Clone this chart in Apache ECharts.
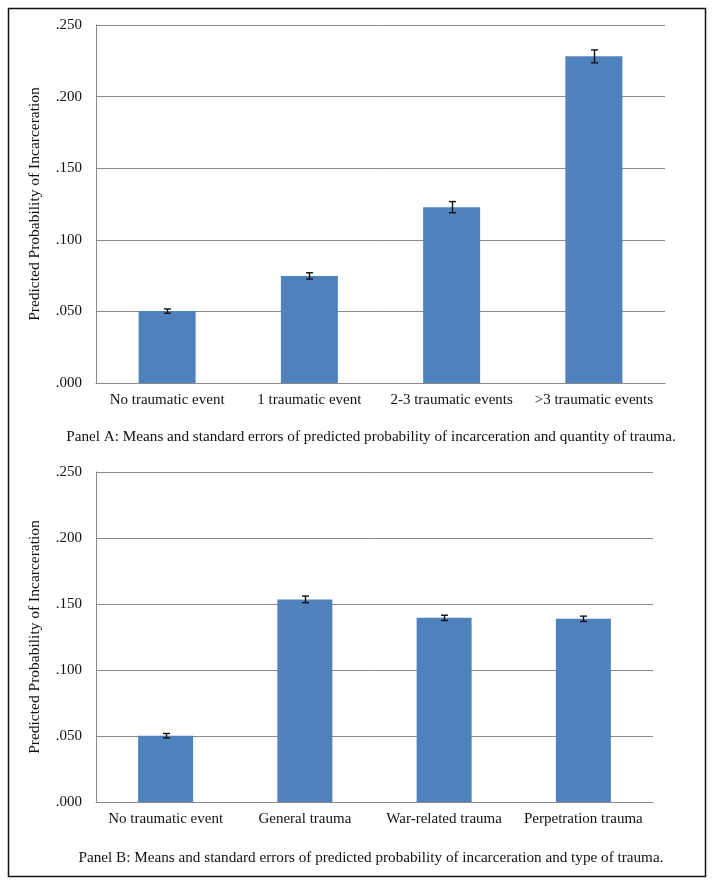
<!DOCTYPE html>
<html>
<head>
<meta charset="utf-8">
<script src="https://cdn.jsdelivr.net/npm/echarts@6/dist/echarts.min.js"></script>
<style>
html,body{margin:0;padding:0;background:#fff;}
#c{width:714px;height:886px;}
</style>
</head>
<body>
<div id="c"></div>
<script>
const categoriesA = ["No traumatic event", "1 traumatic event", "2-3 traumatic events", ">3 traumatic events"];
const meansA = [0.0502, 0.0748, 0.1228, 0.2281];
const seA = [0.0015, 0.0022, 0.0039, 0.0045];

const categoriesB = ["No traumatic event", "General trauma", "War-related trauma", "Perpetration trauma"];
const meansB = [0.0502, 0.1535, 0.1395, 0.1388];
const seB = [0.0017, 0.0025, 0.0020, 0.0020];

const yTicks = [".000", ".050", ".100", ".150", ".200", ".250"];
const yAxisTitle = "Predicted Probability of Incarceration";
const captionA = "Panel A: Means and standard errors of predicted probability of incarceration and quantity of trauma.";
const captionB = "Panel B: Means and standard errors of predicted probability of incarceration and type of trauma.";

const FONT = "'Liberation Serif', 'Times New Roman', serif";
const GRID_COLOR = "#8a8a8a";
const BAR_COLOR = "#4F81BD";

function fmt(v){ return yTicks[Math.round(v / 0.05)] || v.toFixed(3).replace(/^0/, ''); }

function yAxis(idx){
  return {
    type: 'value', gridIndex: idx, min: 0, max: 0.25, interval: 0.05,
    name: yAxisTitle, nameLocation: 'middle', nameRotate: 90, nameGap: 53,
    nameTextStyle: {fontFamily: FONT, fontSize: 15.5, color: '#111'},
    axisLine: {show: true, lineStyle: {color: GRID_COLOR, width: 1}},
    axisTick: {show: false},
    axisLabel: {formatter: fmt, fontFamily: FONT, fontSize: 15, color: '#111', margin: 14},
    splitLine: {show: true, lineStyle: {color: GRID_COLOR, width: 1}}
  };
}
function xAxis(idx, cats){
  return {
    type: 'category', gridIndex: idx, data: cats,
    axisLine: {show: true, lineStyle: {color: GRID_COLOR, width: 1}},
    axisTick: {show: false},
    axisLabel: {fontFamily: FONT, fontSize: 15, color: '#111', margin: 10, interval: 0}
  };
}
function errData(means, se){
  return means.map((m, i) => [i, m - se[i], m + se[i]]);
}
function errSeries(idx, means, se){
  return {
    type: 'custom', xAxisIndex: idx, yAxisIndex: idx, z: 10,
    data: errData(means, se),
    encode: {x: 0, y: [1, 2]},
    renderItem: function(params, api){
      const i = api.value(0);
      const lo = api.coord([i, api.value(1)]);
      const hi = api.coord([i, api.value(2)]);
      const x = Math.round(lo[0]) + 0.5;
      const hw = 3.5;
      const st = {stroke: '#111', lineWidth: 1.4};
      return {
        type: 'group',
        children: [
          {type: 'line', shape: {x1: x, y1: hi[1], x2: x, y2: lo[1]}, style: st},
          {type: 'line', shape: {x1: x - hw, y1: hi[1], x2: x + hw, y2: hi[1]}, style: st},
          {type: 'line', shape: {x1: x - hw, y1: lo[1], x2: x + hw, y2: lo[1]}, style: st}
        ]
      };
    }
  };
}

const chart = echarts.init(document.getElementById('c'), null, {renderer: 'canvas'});
chart.setOption({
  animation: false,
  backgroundColor: '#fff',
  grid: [
    {left: 96, right: 49, top: 25, height: 358},
    {left: 96, right: 61, top: 472, height: 330}
  ],
  xAxis: [xAxis(0, categoriesA), xAxis(1, categoriesB)],
  yAxis: [yAxis(0), yAxis(1)],
  series: [
    {type: 'bar', xAxisIndex: 0, yAxisIndex: 0, data: meansA, barWidth: 57, itemStyle: {color: BAR_COLOR}},
    errSeries(0, meansA, seA),
    {type: 'bar', xAxisIndex: 1, yAxisIndex: 1, data: meansB, barWidth: 55, itemStyle: {color: BAR_COLOR}},
    errSeries(1, meansB, seB)
  ],
  graphic: [
    {type: 'rect', shape: {x: 8.5, y: 8.5, width: 697, height: 868}, style: {fill: null, stroke: '#111', lineWidth: 1.5}, silent: true},
    {type: 'text', x: 371, y: 437, style: {text: captionA, font: "15.2px " + FONT, fill: '#111', textAlign: 'center', textVerticalAlign: 'middle'}},
    {type: 'text', x: 371, y: 858, style: {text: captionB, font: "15.2px " + FONT, fill: '#111', textAlign: 'center', textVerticalAlign: 'middle'}}
  ]
});
</script>
</body>
</html>
